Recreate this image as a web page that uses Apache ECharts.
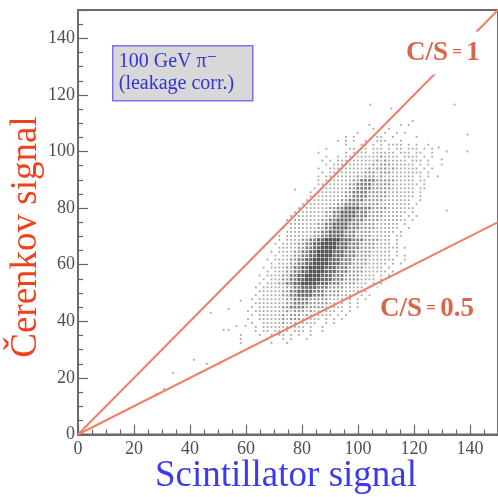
<!DOCTYPE html>
<html>
<head>
<meta charset="utf-8">
<script src="https://cdn.jsdelivr.net/npm/echarts@6/dist/echarts.min.js"></script>
<style>
html, body { margin: 0; padding: 0; background: #fff; }
#chart { width: 498px; height: 497px; }
</style>
</head>
<body>
<div id="chart"></div>
<script>
// 2D histogram: bins of 1.4 units, row 0 is the top row
// each row = [first bin column, levels ('.' empty, 1..5 = box size)]
const binX0 = 60.7;
const binY0 = 112.2;
const binW = 1.4;
const densityRows = [
    [0, ''],
    [42, '1'],
    [31, '1.......1.1'],
    [32, '1...1'],
    [28, '1......1..1.1'],
    [25, '1.1.....11..1.....1'],
    [23, '1.1.1..1..111...1'],
    [25, '1...11.1.1.1111.1.1..1'],
    [20, '1.....11.11.111.1.11.111.1.1'],
    [18, '1......1.1111.111111.111.11..1'],
    [20, '1..1.11.11111121111.1111.1.1'],
    [19, '1.1.111.11111121211111.111.1'],
    [19, '.1.111111111121222111111.1.1'],
    [18, '1..11111111112122212111111.1.1'],
    [18, '.1.111111111222122211111111.1'],
    [18, '1.11111111212221211111111.1.1'],
    [18, '1.11111112233332222211111.11.'],
    [17, '.11111111223333222221111111.1'],
    [17, '1.111111122333322222111111.11'],
    [16, '1.1111111223333222221111111.1.'],
    [15, '.111111111223333222221111111.1'],
    [15, '1.1111111223333222221111111..1'],
    [14, '1.11111112233332222211111111.1'],
    [13, '1.1111112233444433322221111111.'],
    [12, '1.111111223344443332222111111.1.'],
    [11, '1.111111122334444333222211111.1.1'],
    [10, '1.11111112233444433322221111111.1'],
    [10, '.1111111223344443332222111111.1.'],
    [9, '1.1111111223344443332222111111..1'],
    [9, '.1111111223344443332222111111.1.'],
    [8, '1.111111122334444333222211111.11.'],
    [8, '1.111122334455554443332222111.1'],
    [7, '1.1111223344555544433322221111.1.'],
    [7, '.1111122334455554443332222111111.1'],
    [6, '1.11112233445555444333222211111.1.'],
    [6, '.1.1112233445555444333222211111.1.1'],
    [5, '1.1111223344555544433322221111111..1'],
    [5, '.1.1112233445555444333222211111.1.1'],
    [4, '1.11112233445555444333222211111.1..'],
    [4, '.1.11122334455554443332222111111.1.'],
    [3, '1.1111223344555544433322221111.1.1'],
    [3, '.1.111223344555544433322221111.1.'],
    [3, '1.11122334455554443332222111.1.1'],
    [2, '1.11111122334444333222211111.1.1'],
    [2, '.1111112233444433322221111111.1'],
    [2, '1.111112233444433322221111.1.1'],
    [1, '1.111111122333322222111111.1.1'],
    [1, '.11111111223333222221111.1.1.'],
    [1, '1.1111112233332222211111.1.1'],
    [0, '1.111111112122212111111.1.1'],
    [0, '.1.1111112122212111111.1.1'],
    [0, '1..1111112122212111.1.1.1'],
    [1, '1..11111211111111..1.1'],
    [1, '.1.11111111111.1..1.'],
    [2, '1.11.1111.111.1..1'],
    [3, '1..1.11.1.1..1'],
    [5, '1...1.1...1'],
    [6, '1...1']
];
// single events lying away from the main cloud
const strayPoints = [
    [28.0, 14.3], [30.8, 16.1], [34.0, 21.8], [41.4, 26.4], [46.0, 25.0], [50.6, 25.0],
    [47.4, 43.0], [53.8, 44.4], [58.1, 47.3], [52.0, 37.0], [53.8, 37.0], [56.6, 38.4],
    [59.8, 38.4], [58.1, 35.2], [58.1, 33.8], [58.1, 32.4], [77.5, 86.5],
    [104.4, 116.6], [111.9, 115.2], [134.5, 116.6], [139.1, 106.0], [139.1, 100.0],
    [131.7, 100.0], [128.8, 101.4], [129.9, 97.2], [129.9, 95.4], [128.5, 91.2], [131.7, 79.1]
];
const ratios = [1, 0.5];
const ratioLabels = ['1', '0.5'];
const axisMax = 150;
const tickStep = 20;

const serif = '"Liberation Serif", "DejaVu Serif", serif';
const dotSize = [0, 1.8, 2.2, 2.7, 3.1, 3.5];
const dotColor = ['#fff', '#a6a6a6', '#939393', '#7c7c7c', '#666666', '#535353'];
const lineColor = '#ec8068';
const labelColor = '#d9664c';

const cells = [];
densityRows.forEach(function (row, r) {
    const start = row[0], s = row[1];
    for (let i = 0; i < s.length; i++) {
        const lv = s.charCodeAt(i) - 48;
        if (lv >= 1 && lv <= 9) {
            cells.push([+(binX0 + binW * (start + i)).toFixed(2), +(binY0 - binW * r).toFixed(2), lv]);
        }
    }
});
strayPoints.forEach(function (p) { cells.push([p[0], p[1], 1]); });

function valueAxis() {
    return {
        type: 'value',
        min: 0,
        max: axisMax,
        interval: tickStep,
        axisLine: { show: true, lineStyle: { color: '#6b6b6b', width: 2 } },
        axisTick: { show: true, inside: true, length: 10, lineStyle: { color: '#666', width: 1.2 } },
        minorTick: { show: true, splitNumber: 4, length: 5, lineStyle: { color: '#666', width: 1.2 } },
        axisLabel: { color: '#4f4f4f', fontSize: 18, fontFamily: serif, showMaxLabel: false },
        splitLine: { show: false }
    };
}

const xAxis = valueAxis();
xAxis.axisLabel.margin = 6;
const yAxis = valueAxis();
yAxis.axisLabel.margin = 3;

const lineSeries = ratios.map(function (k) {
    return {
        type: 'line',
        data: [[0, 0], [axisMax, axisMax * k]],
        symbol: 'none',
        silent: true,
        z: 5,
        lineStyle: { color: lineColor, width: 2 }
    };
});

const chart = echarts.init(document.getElementById('chart'));
chart.setOption({
    backgroundColor: '#ffffff',
    animation: false,
    grid: {
        left: 78, top: 10, width: 424, height: 424.5,
        show: true, borderColor: '#6b6b6b', borderWidth: 2, backgroundColor: '#fff'
    },
    xAxis: xAxis,
    yAxis: yAxis,
    series: [{
        type: 'scatter',
        data: cells,
        symbol: 'rect',
        symbolSize: function (v) { return dotSize[v[2]]; },
        itemStyle: {
            color: function (p) { return dotColor[p.value[2]]; },
            opacity: 1
        },
        silent: true,
        z: 2
    }].concat(lineSeries),
    graphic: [
        {
            type: 'text', x: 26, y: 237, rotation: Math.PI / 2, z: 10,
            style: {
                text: 'Čerenkov signal', fill: '#f0401c', font: '37px ' + serif,
                textAlign: 'center', textVerticalAlign: 'middle'
            }
        },
        {
            type: 'text', x: 286, y: 476, z: 10,
            style: {
                text: 'Scintillator signal', fill: '#3a3aee', font: '37px ' + serif,
                textAlign: 'center', textVerticalAlign: 'middle'
            }
        },
        {
            type: 'group', left: 112, top: 45, z: 10,
            children: [
                {
                    type: 'rect', shape: { x: 0, y: 0, width: 140, height: 55 },
                    style: { fill: '#d8d8d8', stroke: '#7d70ee', lineWidth: 1.5 }
                },
                {
                    type: 'text', x: 6, y: 16,
                    style: { text: '100 GeV π⁻', fill: '#3434d4', font: '20px ' + serif, textVerticalAlign: 'middle' }
                },
                {
                    type: 'text', x: 6, y: 38,
                    style: { text: '(leakage corr.)', fill: '#3434d4', font: '20px ' + serif, textVerticalAlign: 'middle' }
                }
            ]
        },
        {
            type: 'text', x: 398, y: 53, z: 10,
            style: {
                text: '{a|C/S}{b| = }{a|' + ratioLabels[0] + '}',
                textVerticalAlign: 'middle',
                backgroundColor: '#fff', padding: [8, 14, 8, 8],
                rich: {
                    a: { fontFamily: serif, fontWeight: 'bold', fontSize: 27, fill: labelColor, color: labelColor },
                    b: { fontFamily: serif, fontWeight: 'bold', fontSize: 17, fill: labelColor, color: labelColor }
                }
            }
        },
        {
            type: 'text', x: 372, y: 309, z: 10,
            style: {
                text: '{a|C/S}{b| = }{a|' + ratioLabels[1] + '}',
                textVerticalAlign: 'middle',
                backgroundColor: '#fff', padding: [8, 12, 8, 8],
                rich: {
                    a: { fontFamily: serif, fontWeight: 'bold', fontSize: 27, fill: labelColor, color: labelColor },
                    b: { fontFamily: serif, fontWeight: 'bold', fontSize: 17, fill: labelColor, color: labelColor }
                }
            }
        }
    ]
});
</script>
</body>
</html>
